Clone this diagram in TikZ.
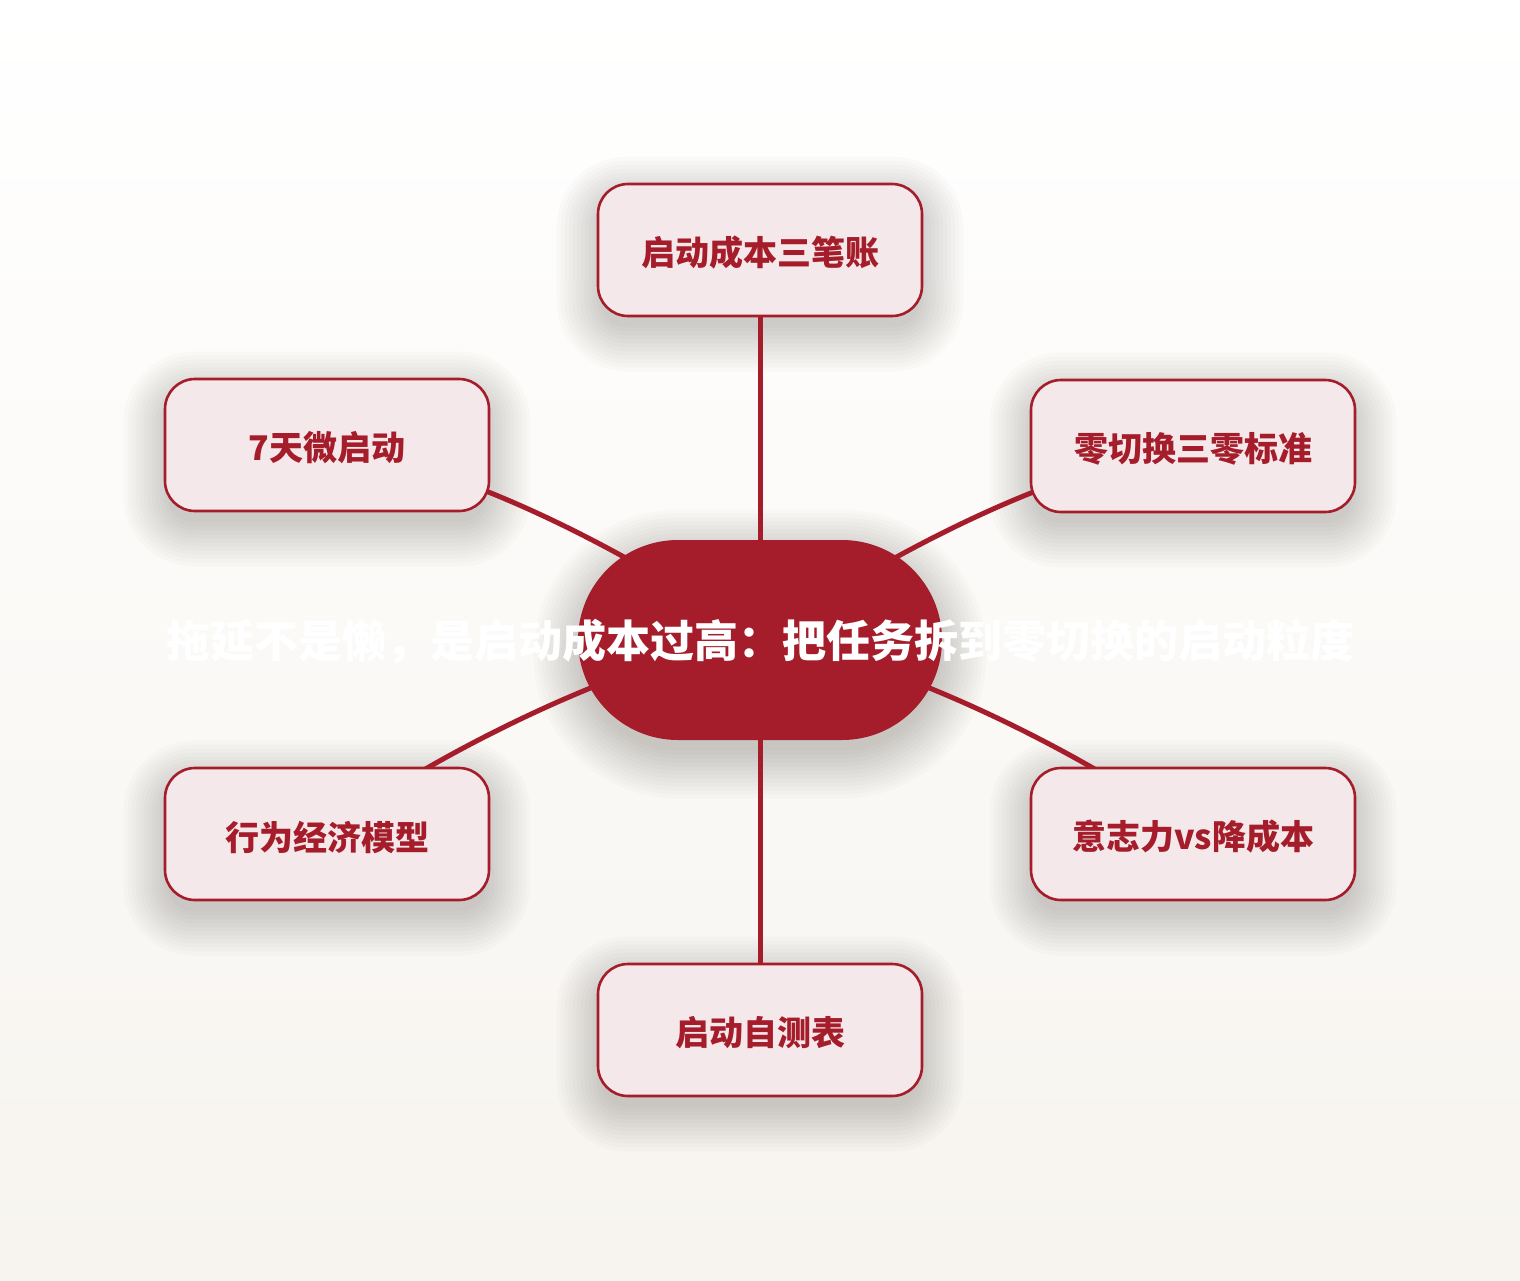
\documentclass[tikz,border=0pt]{standalone}
\usepackage{fontspec}
\newfontfamily\cjk{Noto Sans CJK SC}
\usetikzlibrary{calc}
\definecolor{crim}{HTML}{A51C2A}
\definecolor{boxfill}{HTML}{F5E8EA}
\definecolor{bgbot}{HTML}{F7F4EF}
\definecolor{shadowc}{HTML}{3A3028}
\pgfdeclarelayer{bgl}
\pgfdeclarelayer{shadl}
\pgfdeclarelayer{edgel}
\pgfsetlayers{bgl,shadl,edgel,main}
\newcommand{\lowtxt}[1]{\raisebox{-1.5pt}[\height][\depth]{#1}}
\begin{document}
\begin{tikzpicture}[x=0.5pt,y=-0.5pt,
  leaf/.style={draw=crim, line width=1.3pt, fill=boxfill, rounded corners=15pt,
    minimum width=162pt, minimum height=66pt, inner sep=0pt,
    font=\cjk\bfseries\fontsize{17pt}{20pt}\selectfont, text=crim},
  hub/.style={fill=crim, rounded corners=50pt, minimum width=182pt, minimum height=100pt, inner sep=0pt},
  title/.style={text=white, inner sep=0pt, font=\cjk\bfseries\fontsize{22pt}{26pt}\selectfont},
  link/.style={draw=crim, line width=2.5pt, line cap=round}]
\useasboundingbox (0,0) rectangle (1520,1280);
\begin{pgfonlayer}{bgl}
\foreach \i in {0,...,63}{
  \pgfmathsetmacro{\p}{\i*100/63}
  \fill[bgbot!\p!white] (0,{\i*20}) rectangle (1520,{\i*20+21});
}
\end{pgfonlayer}

\node[hub] (c) at (760,640) {};
\node[leaf] (top) at (760,250) {\lowtxt{启动成本三笔账}};
\node[leaf] (ul) at (327,445) {\lowtxt{7天微启动}};
\node[leaf] (ur) at (1193,446) {\lowtxt{零切换三零标准}};
\node[leaf] (ll) at (327,834) {\lowtxt{行为经济模型}};
\node[leaf] (lr) at (1193,834) {\lowtxt{意志力vs降成本}};
\node[leaf] (bot) at (760,1030) {\lowtxt{启动自测表}};
\node[title] (t) at (760,642) {拖延不是懒，是启动成本过高：把任务拆到零切换的启动粒度};

\begin{pgfonlayer}{shadl}
\foreach \n in {top,ul,ur,ll,lr,bot}{
  \foreach \k in {-4,0,...,40}{
    \fill[shadowc, opacity=0.018, rounded corners={15pt+\k*0.5pt}]
      ($(\n.north west)+(-\k,-\k+14)$) rectangle ($(\n.south east)+(\k,\k+14)$);
  }
}
\foreach \k in {-4,0,...,44}{
  \fill[shadowc, opacity=0.02, rounded corners={50pt+\k*0.5pt}]
    ($(c.north west)+(-\k,-\k+14)$) rectangle ($(c.south east)+(\k,\k+14)$);
}
\end{pgfonlayer}

\begin{pgfonlayer}{edgel}
\draw[link] (c.center) -- (top.center);
\draw[link] (c.center) -- (bot.center);
\draw[link] (c.center) .. controls +(-120,-80) and +(153,25) .. (ul.center);
\draw[link] (c.center) .. controls +(120,-80) and +(-153,25) .. (ur.center);
\draw[link] (c.center) .. controls +(-120,10) and +(93,-74) .. (ll.center);
\draw[link] (c.center) .. controls +(120,10) and +(-93,-74) .. (lr.center);
\end{pgfonlayer}
\end{tikzpicture}
\end{document}
